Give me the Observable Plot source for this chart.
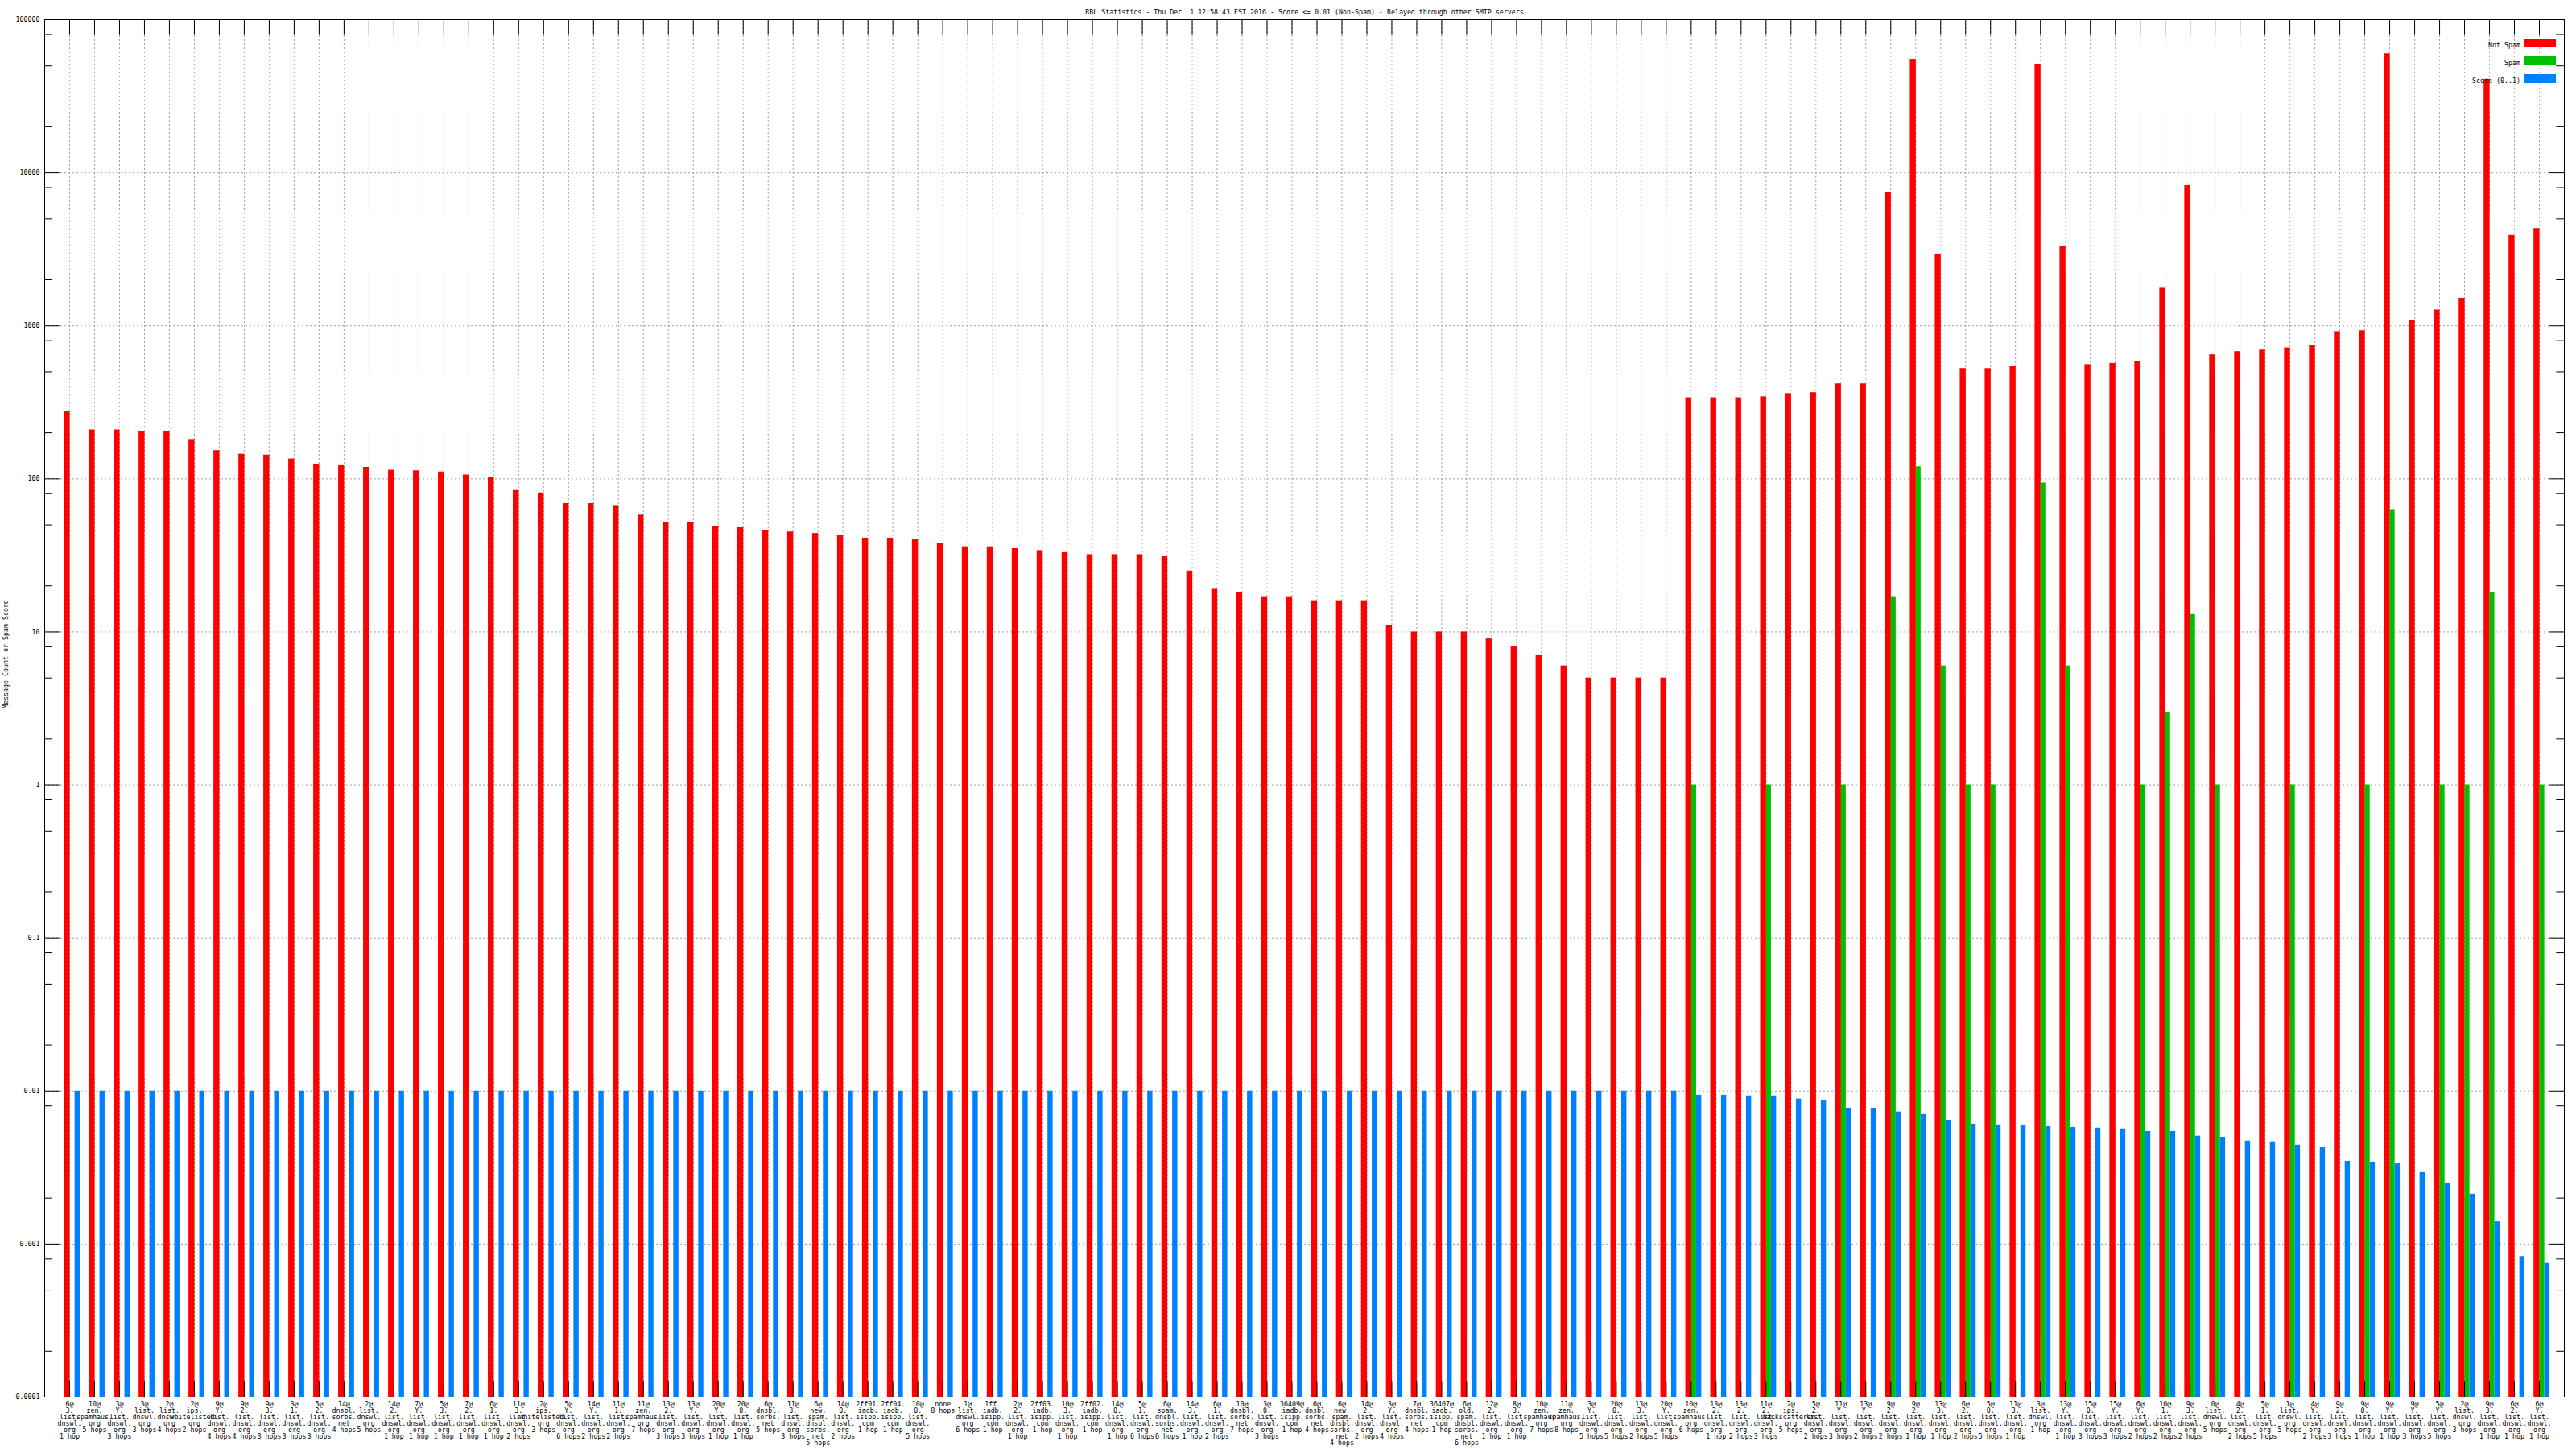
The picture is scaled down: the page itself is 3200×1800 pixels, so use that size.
<!DOCTYPE html>
<html><head><meta charset="utf-8">
<script src="https://cdn.jsdelivr.net/npm/d3@7"></script>
<script src="https://cdn.jsdelivr.net/npm/@observablehq/plot@0.6"></script>
<style>
html,body{margin:0;padding:0;background:#fff;overflow:hidden;}
svg{display:block;}
svg text{white-space:pre;}
</style>
</head><body><div id="chart"></div>
<script>
// ---------------- data ----------------
const chartTitle = "RBL Statistics - Thu Dec  1 12:58:43 EST 2016 - Score <= 0.01 (Non-Spam) - Relayed through other SMTP servers";
const yAxisTitle = "Message Count or Spam Score";
const seriesNames = ["Not Spam", "Spam", "Score (0..1)"];

const groupLabels = [
"6@\n3.\nlist.\ndnswl.\norg\n1 hop",
"10@\nzen.\nspamhaus.\norg\n5 hops",
"3@\nY.\nlist.\ndnswl.\norg\n3 hops",
"3@\nlist.\ndnswl.\norg\n3 hops",
"2@\nlist.\ndnswl.\norg\n4 hops",
"2@\nips.\nwhitelisted.\norg\n2 hops",
"9@\nY.\nlist.\ndnswl.\norg\n4 hops",
"9@\n2.\nlist.\ndnswl.\norg\n4 hops",
"9@\n3.\nlist.\ndnswl.\norg\n3 hops",
"3@\n1.\nlist.\ndnswl.\norg\n3 hops",
"5@\n2.\nlist.\ndnswl.\norg\n3 hops",
"14@\ndnsbl.\nsorbs.\nnet\n4 hops",
"2@\nlist.\ndnswl.\norg\n5 hops",
"14@\n2.\nlist.\ndnswl.\norg\n1 hop",
"7@\nY.\nlist.\ndnswl.\norg\n1 hop",
"5@\n3.\nlist.\ndnswl.\norg\n1 hop",
"7@\n2.\nlist.\ndnswl.\norg\n1 hop",
"6@\n1.\nlist.\ndnswl.\norg\n1 hop",
"11@\n3.\nlist.\ndnswl.\norg\n2 hops",
"2@\nips.\nwhitelisted.\norg\n3 hops",
"5@\nY.\nlist.\ndnswl.\norg\n6 hops",
"14@\nY.\nlist.\ndnswl.\norg\n2 hops",
"11@\n1.\nlist.\ndnswl.\norg\n2 hops",
"11@\nzen.\nspamhaus.\norg\n7 hops",
"13@\n2.\nlist.\ndnswl.\norg\n3 hops",
"13@\nY.\nlist.\ndnswl.\norg\n3 hops",
"20@\nY.\nlist.\ndnswl.\norg\n1 hop",
"20@\n0.\nlist.\ndnswl.\norg\n1 hop",
"6@\ndnsbl.\nsorbs.\nnet\n5 hops",
"11@\n3.\nlist.\ndnswl.\norg\n3 hops",
"6@\nnew.\nspam.\ndnsbl.\nsorbs.\nnet\n5 hops",
"14@\n0.\nlist.\ndnswl.\norg\n2 hops",
"2ff01.\niadb.\nisipp.\ncom\n1 hop",
"2ff04.\niadb.\nisipp.\ncom\n1 hop",
"10@\n0.\nlist.\ndnswl.\norg\n5 hops",
"none\n8 hops",
"1@\nlist.\ndnswl.\norg\n6 hops",
"1ff.\niadb.\nisipp.\ncom\n1 hop",
"2@\n2.\nlist.\ndnswl.\norg\n1 hop",
"2ff03.\niadb.\nisipp.\ncom\n1 hop",
"10@\n3.\nlist.\ndnswl.\norg\n1 hop",
"2ff02.\niadb.\nisipp.\ncom\n1 hop",
"14@\n0.\nlist.\ndnswl.\norg\n1 hop",
"5@\n1.\nlist.\ndnswl.\norg\n6 hops",
"6@\nspam.\ndnsbl.\nsorbs.\nnet\n6 hops",
"14@\n3.\nlist.\ndnswl.\norg\n1 hop",
"6@\n1.\nlist.\ndnswl.\norg\n2 hops",
"10@\ndnsbl.\nsorbs.\nnet\n7 hops",
"3@\n0.\nlist.\ndnswl.\norg\n3 hops",
"36409@\niadb.\nisipp.\ncom\n1 hop",
"6@\ndnsbl.\nsorbs.\nnet\n4 hops",
"6@\nnew.\nspam.\ndnsbl.\nsorbs.\nnet\n4 hops",
"14@\n2.\nlist.\ndnswl.\norg\n2 hops",
"3@\nY.\nlist.\ndnswl.\norg\n4 hops",
"7@\ndnsbl.\nsorbs.\nnet\n4 hops",
"36407@\niadb.\nisipp.\ncom\n1 hop",
"6@\nold.\nspam.\ndnsbl.\nsorbs.\nnet\n6 hops",
"12@\n2.\nlist.\ndnswl.\norg\n1 hop",
"8@\n3.\nlist.\ndnswl.\norg\n1 hop",
"10@\nzen.\nspamhaus.\norg\n7 hops",
"11@\nzen.\nspamhaus.\norg\n8 hops",
"3@\nY.\nlist.\ndnswl.\norg\n5 hops",
"20@\n0.\nlist.\ndnswl.\norg\n5 hops",
"13@\n3.\nlist.\ndnswl.\norg\n2 hops",
"20@\nY.\nlist.\ndnswl.\norg\n5 hops",
"10@\nzen.\nspamhaus.\norg\n6 hops",
"13@\n2.\nlist.\ndnswl.\norg\n1 hop",
"13@\n2.\nlist.\ndnswl.\norg\n2 hops",
"11@\n2.\nlist.\ndnswl.\norg\n3 hops",
"2@\nips.\nbackscatterer.\norg\n5 hops",
"5@\n2.\nlist.\ndnswl.\norg\n2 hops",
"11@\nY.\nlist.\ndnswl.\norg\n3 hops",
"13@\nY.\nlist.\ndnswl.\norg\n2 hops",
"9@\n2.\nlist.\ndnswl.\norg\n2 hops",
"9@\n2.\nlist.\ndnswl.\norg\n1 hop",
"13@\n3.\nlist.\ndnswl.\norg\n1 hop",
"6@\n2.\nlist.\ndnswl.\norg\n2 hops",
"5@\n0.\nlist.\ndnswl.\norg\n5 hops",
"11@\n3.\nlist.\ndnswl.\norg\n1 hop",
"3@\nlist.\ndnswl.\norg\n1 hop",
"13@\nY.\nlist.\ndnswl.\norg\n1 hop",
"15@\n0.\nlist.\ndnswl.\norg\n3 hops",
"15@\nY.\nlist.\ndnswl.\norg\n3 hops",
"6@\nY.\nlist.\ndnswl.\norg\n2 hops",
"10@\n1.\nlist.\ndnswl.\norg\n2 hops",
"9@\n3.\nlist.\ndnswl.\norg\n2 hops",
"0@\nlist.\ndnswl.\norg\n5 hops",
"4@\n2.\nlist.\ndnswl.\norg\n2 hops",
"5@\n1.\nlist.\ndnswl.\norg\n5 hops",
"1@\nlist.\ndnswl.\norg\n5 hops",
"4@\nY.\nlist.\ndnswl.\norg\n2 hops",
"9@\n2.\nlist.\ndnswl.\norg\n3 hops",
"9@\n0.\nlist.\ndnswl.\norg\n1 hop",
"9@\nY.\nlist.\ndnswl.\norg\n1 hop",
"9@\nY.\nlist.\ndnswl.\norg\n3 hops",
"5@\nY.\nlist.\ndnswl.\norg\n5 hops",
"2@\nlist.\ndnswl.\norg\n3 hops",
"9@\n3.\nlist.\ndnswl.\norg\n1 hop",
"6@\n2.\nlist.\ndnswl.\norg\n1 hop",
"6@\nY.\nlist.\ndnswl.\norg\n1 hop"
];

const notSpam = [
  277, 209, 209, 205, 203, 181, 153, 145, 143, 135,
  125, 122, 119, 114, 113, 111, 106, 102, 84, 81,
  69, 69, 67, 58, 52, 52, 49, 48, 46, 45,
  44, 43, 41, 41, 40, 38, 36, 36, 35, 34,
  33, 32, 32, 32, 31, 25, 19, 18, 17, 17,
  16, 16, 16, 11, 10, 10, 10, 9, 8, 7,
  6, 5, 5, 5, 5, 339, 339, 339, 344, 361,
  366, 418, 418, 7490, 55200, 2930, 526, 526, 541, 51400,
  3320, 558, 568, 586, 1763, 8260, 647, 679, 695, 718,
  749, 917, 929, 59950, 1090, 1270, 1515, 40900, 3900, 4330
];

const spam = [
  null, null, null, null, null, null, null, null, null, null,
  null, null, null, null, null, null, null, null, null, null,
  null, null, null, null, null, null, null, null, null, null,
  null, null, null, null, null, null, null, null, null, null,
  null, null, null, null, null, null, null, null, null, null,
  null, null, null, null, null, null, null, null, null, null,
  null, null, null, null, null, 1, null, null, 1, null,
  null, 1, null, 17, 120, 6, 1, 1, null, 94,
  6, null, null, 1, 3, 13, 1, null, null, 1,
  null, null, 1, 63, null, 1, 1, 18, null, 1
];

const score = [
  0.01, 0.01, 0.01, 0.01, 0.01, 0.01, 0.01, 0.01, 0.01, 0.01,
  0.01, 0.01, 0.01, 0.01, 0.01, 0.01, 0.01, 0.01, 0.01, 0.01,
  0.01, 0.01, 0.01, 0.01, 0.01, 0.01, 0.01, 0.01, 0.01, 0.01,
  0.01, 0.01, 0.01, 0.01, 0.01, 0.01, 0.01, 0.01, 0.01, 0.01,
  0.01, 0.01, 0.01, 0.01, 0.01, 0.01, 0.01, 0.01, 0.01, 0.01,
  0.01, 0.01, 0.01, 0.01, 0.01, 0.01, 0.01, 0.01, 0.01, 0.01,
  0.01, 0.01, 0.01, 0.01, 0.01, 0.0094, 0.0094, 0.0093, 0.0093, 0.00887,
  0.00873, 0.00767, 0.00767, 0.00731, 0.00703, 0.00645, 0.00608, 0.00601, 0.00594, 0.00585,
  0.00578, 0.00573, 0.00566, 0.00545, 0.00545, 0.00508, 0.00495, 0.00472, 0.00461, 0.00444,
  0.00427, 0.00348, 0.00344, 0.00335, 0.00294, 0.00251, 0.00212, 0.0014, 0.00083, 0.00075
];

const yMajorTicks = [0.0001, 0.001, 0.01, 0.1, 1, 10, 100, 1000, 10000, 100000];
const yTickLabels = ["0.0001", "0.001", "0.01", "0.1", "1", "10", "100", "1000", "10000", "100000"];
const yMinorMantissas = [2, 5, 8];

// ---------------- styles / layout ----------------
const colors = ["#ff0000", "#00c000", "#0080ff"];
const W = 3200, H = 1800;
const mL = 55, mR = 15, mT = 24, mB = 65;
const plotW = W - mL - mR, plotH = H - mT - mB;
const xDomain = [-1, groupLabels.length];
const unit = plotW / (xDomain[1] - xDomain[0]);        // px per group
const barSpans = [[-6.8, 0.6], [0.6, 6.6], [6.6, 13.0]]; // px offsets from tick
const majorLen = 18.7, minorLen = 9.7;
const gridStyle = {stroke: "#a0a0a0", strokeDasharray: "2,3", strokeWidth: 1};
const fontMono = "'DejaVu Sans Mono', 'Liberation Mono', monospace";
const fs = 8.3;

const rows = groupLabels.map((label, i) => ({i, label, v: [notSpam[i], spam[i], score[i]]}));
const xTicks = rows.map(r => r.i);
const yMinorTicks = yMajorTicks.slice(0, -1).flatMap(d => yMinorMantissas.map(m => m * d));

const barMarks = seriesNames.map((name, k) =>
  Plot.rectY(rows.filter(r => r.v[k] != null && r.v[k] > 0), {
    x1: r => r.i + barSpans[k][0] / unit,
    x2: r => r.i + barSpans[k][1] / unit,
    y1: yMajorTicks[0],
    y2: r => r.v[k],
    fill: colors[k]
  })
);

const legendMarks = seriesNames.flatMap((name, k) => [
  Plot.text([name], {
    text: d => d, frameAnchor: "top-right", textAnchor: "end",
    dx: -54.5, dy: 29 + 22 * k, fontSize: fs, fill: "black"
  }),
  Plot.rect([name], {
    fill: colors[k],
    insetLeft: 3136 - mL, insetRight: W - mR - 3175,
    insetTop: 24 + 22 * k, insetBottom: plotH - (24 + 22 * k) - 11
  })
]);

const chart = Plot.plot({
  width: W, height: H,
  marginLeft: mL, marginRight: mR, marginTop: mT, marginBottom: mB,
  style: {fontFamily: fontMono, fontSize: fs + "px", background: "#fff", color: "black", overflow: "visible"},
  x: {type: "linear", domain: xDomain, axis: null},
  y: {type: "log", domain: [yMajorTicks[0], yMajorTicks[yMajorTicks.length - 1]], axis: null},
  marks: [
    // grid
    Plot.ruleX(xTicks, {x: d => d, ...gridStyle}),
    Plot.ruleY(yMajorTicks.slice(1, -1), {y: d => d, ...gridStyle}),
    // bars
    ...barMarks,
    // border
    Plot.frame({stroke: "black", strokeWidth: 1}),
    // y ticks (inward, both sides)
    Plot.tickY(yMajorTicks, {y: d => d, insetRight: plotW - majorLen, stroke: "black"}),
    Plot.tickY(yMajorTicks, {y: d => d, insetLeft: plotW - majorLen, stroke: "black"}),
    Plot.tickY(yMinorTicks, {y: d => d, insetRight: plotW - minorLen, stroke: "black"}),
    Plot.tickY(yMinorTicks, {y: d => d, insetLeft: plotW - minorLen, stroke: "black"}),
    // x ticks (top and bottom, inward)
    Plot.tickX(xTicks, {x: d => d, insetBottom: plotH - majorLen, stroke: "black"}),
    Plot.tickX(xTicks, {x: d => d, insetTop: plotH - majorLen, stroke: "black"}),
    // y tick labels
    Plot.text(yMajorTicks, {y: d => d, text: (d, i) => yTickLabels[i], frameAnchor: "left", textAnchor: "end", dx: -6, fontSize: fs, fill: "black"}),
    // x group labels
    Plot.text(rows, {x: r => r.i, text: r => r.label, frameAnchor: "bottom", lineAnchor: "top", dy: 6, lineHeight: 8 / fs, fontSize: fs, fill: "black"}),
    // titles
    Plot.text([chartTitle], {text: d => d, frameAnchor: "top", dy: -12.5, fontSize: fs, fill: "black"}),
    Plot.text([yAxisTitle], {text: d => d, frameAnchor: "left", rotate: -90, dx: -48.5, fontSize: fs, fill: "black"}),
    // legend
    ...legendMarks
  ]
});
document.getElementById("chart").appendChild(chart);
</script>
</body></html>
